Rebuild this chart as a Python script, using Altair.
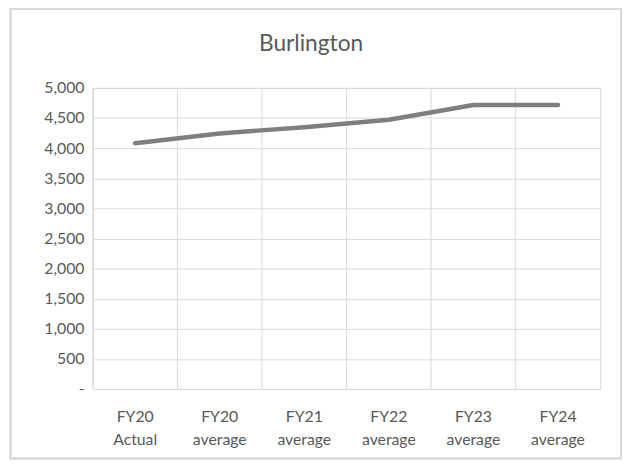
import altair as alt
import pandas as pd

categories = ["FY20 Actual", "FY20 average", "FY21 average", "FY22 average", "FY23 average", "FY24 average"]
values = [4081, 4244, 4348, 4472, 4717, 4717]
title_text = "Burlington"

df = pd.DataFrame({"cat": categories, "value": values})

FONT = "Lato"
GREY_TXT = "#595959"
GRID = "#d9d9d9"

xscale = alt.Scale(domain=categories, paddingInner=0, paddingOuter=0)
yscale = alt.Scale(domain=[0, 5000])

xaxis = alt.Axis(labelExpr="split(datum.label, ' ')", labelAngle=0, ticks=False,
                 domain=False, grid=False, labelPadding=20, labelFontSize=16,
                 labelColor=GREY_TXT, labelFont=FONT, labelLineHeight=23,
                 labelBaseline="top")

base = alt.Chart(df)

grid_v = base.mark_rule(color=GRID, strokeWidth=1).encode(
    x=alt.X("cat:N", scale=xscale, sort=categories, bandPosition=0, title=None, axis=xaxis),
    y=alt.value(0),
    y2=alt.value(305),
)

line = base.mark_line(color="#7f7f7f", strokeWidth=4.5, strokeCap="round", strokeJoin="round").encode(
    x=alt.X("cat:N", scale=xscale, sort=categories, title=None, axis=xaxis),
    y=alt.Y("value:Q", scale=yscale, title=None,
            axis=alt.Axis(values=list(range(0, 5001, 500)),
                          labelExpr="datum.value == 0 ? '-' : format(datum.value, ',')",
                          ticks=False, domain=False, grid=True, gridColor=GRID,
                          labelPadding=9, labelFontSize=16, labelColor=GREY_TXT, labelFont=FONT)),
)

border = base.mark_rect(fill=None, stroke=GRID, strokeWidth=1.5).encode(
    x=alt.value(-83.5), x2=alt.value(535), y=alt.value(-80), y2=alt.value(375.5)
)

title = alt.Chart(pd.DataFrame({"t": [title_text]})).mark_text(
    font=FONT, fontSize=23, color=GREY_TXT, align="center", baseline="middle"
).encode(text="t:N", x=alt.value(221), y=alt.value(-44))

chart = alt.layer(border, grid_v, line, title).properties(
    width=514, height=305,
    autosize=alt.AutoSizeParams(type="none"),
    padding={"left": 86, "top": 78, "right": 22, "bottom": 70},
).configure_view(stroke=GRID, strokeWidth=1)

chart.save("out.html", embed_options={"renderer": "svg", "actions": False})
